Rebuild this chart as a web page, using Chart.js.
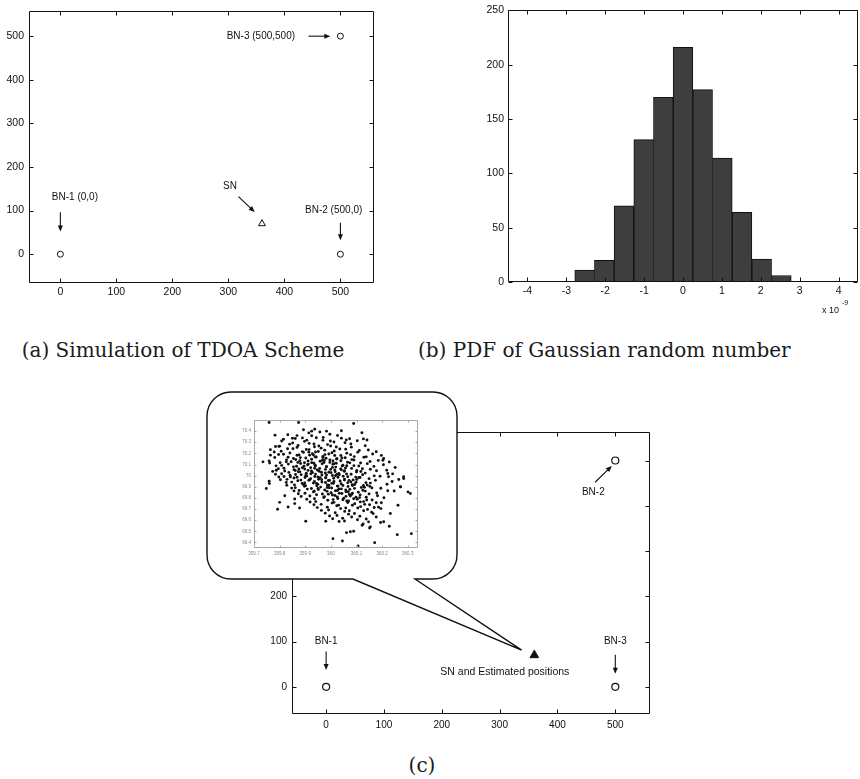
<!DOCTYPE html>
<html>
<head>
<meta charset="utf-8">
<script src="https://cdn.jsdelivr.net/npm/chart.js@4.4.1/dist/chart.umd.min.js"></script>
<style>
  html, body { margin: 0; padding: 0; background: #fff; }
  body { width: 860px; height: 779px; position: relative; overflow: hidden; }
  canvas { position: absolute; }
  .cap { position: absolute; font-family: "DejaVu Serif", serif; font-size: 20px; line-height: 20px;
         color: #1a1a1a; white-space: nowrap; }
</style>
</head>
<body>
<canvas id="chartA" width="400" height="300" style="left:0;top:0"></canvas>
<canvas id="chartB" width="430" height="320" style="left:430px;top:0"></canvas>
<canvas id="chartC" width="460" height="360" style="left:200px;top:380px"></canvas>
<canvas id="inset" width="195" height="155" style="left:230px;top:410px"></canvas>
<div class="cap" id="capA" style="left:183px;top:340px;transform:translateX(-50%)">(a) Simulation of TDOA Scheme</div>
<div class="cap" id="capB" style="left:418px;top:340px">(b) PDF of Gaussian random number</div>
<div class="cap" id="capC" style="left:422px;top:755px;transform:translateX(-50%)">(c)</div>

<script>
// ---------------- data ----------------
// beacon nodes and the sensor node (metres)
const beaconX = [0, 500, 500];
const beaconY = [0, 0, 500];
const sensorX = [360];
const sensorY = [70];
const fieldTicks = [0, 100, 200, 300, 400, 500];

// histogram of the Gaussian timing noise (seconds, x 1e-9)
const binCenters = [-2.53, -2.024, -1.518, -1.012, -0.506, 0, 0.506, 1.012, 1.518, 2.024, 2.53];
const binCounts  = [11, 20, 70, 131, 170, 216, 177, 114, 64, 21, 6];
const noiseTicks = [-4, -3, -2, -1, 0, 1, 2, 3, 4];
const countTicks = [0, 50, 100, 150, 200, 250];

// zoomed view of the estimated sensor positions
const zoomXTicks = [359.7, 359.8, 359.9, 360, 360.1, 360.2, 360.3];
const zoomYTicks = [69.4, 69.5, 69.6, 69.7, 69.8, 69.9, 70, 70.1, 70.2, 70.3, 70.4];
const estimatedPositions = [
  [359.893,70.413],[359.957,70.392],[360.041,70.404],
  [359.868,70.36],[359.914,70.384],[359.996,70.372],
  [359.832,70.367],[359.889,70.339],[359.925,70.358],[359.970,70.343],[360.026,70.361],[360.073,70.332],
  [359.815,70.327],[359.850,70.336],[359.906,70.319],[359.943,70.34],[359.998,70.312],[360.041,70.337],[360.127,70.33],
  [359.808,70.311],[359.851,70.294],[359.897,70.308],[359.934,70.285],[359.969,70.317],[360.012,70.303],[360.055,70.296],[360.103,70.313],
  [359.784,70.262],[359.839,70.283],[359.872,70.271],[359.915,70.29],[359.953,70.266],[359.987,70.279],[360.021,70.258],[360.078,70.284],[360.134,70.268],
  [359.797,70.263],[359.831,70.242],[359.868,70.254],[359.904,70.235],[359.936,70.259],[359.962,70.247],[359.999,70.267],[360.035,70.239],[360.080,70.256],[360.146,70.231],
  [359.764,70.233],[359.806,70.219],[359.852,70.242],[359.889,70.216],[359.915,70.234],[359.940,70.212],[359.976,70.229],[360.013,70.221],[360.058,70.238],[360.111,70.227],[360.177,70.215],
  [359.779,70.213],[359.815,70.192],[359.840,70.204],[359.876,70.185],[359.893,70.209],[359.928,70.197],[359.951,70.217],[359.977,70.189],[360.004,70.206],[360.039,70.181],[360.062,70.202],[360.105,70.211],[360.163,70.194],
  [359.796,70.19],[359.833,70.166],[359.868,70.183],[359.881,70.162],[359.917,70.184],[359.939,70.167],[359.969,70.173],[359.992,70.194],[360.015,70.181],[360.043,70.158],[360.077,70.188],[360.091,70.171],[360.138,70.169],[360.197,70.182],
  [359.781,70.163],[359.827,70.142],[359.854,70.154],[359.879,70.135],[359.902,70.159],[359.925,70.147],[359.943,70.167],[359.967,70.139],[359.981,70.156],[360.008,70.131],[360.024,70.152],[360.056,70.161],[360.082,70.144],[360.129,70.165],[360.185,70.137],
  [359.759,70.133],[359.802,70.117],[359.845,70.125],[359.863,70.144],[359.897,70.116],[359.911,70.131],[359.934,70.112],[359.958,70.129],[359.974,70.137],[359.996,70.119],[360.012,70.108],[360.039,70.134],[360.065,70.121],[360.090,70.14],[360.116,70.114],[360.153,70.127],[360.228,70.123],
  [359.761,70.113],[359.808,70.092],[359.834,70.104],[359.866,70.085],[359.882,70.109],[359.909,70.097],[359.925,70.117],[359.940,70.089],[359.966,70.106],[359.983,70.081],[360.008,70.102],[360.021,70.111],[360.047,70.094],[360.074,70.115],[360.109,70.087],[360.142,70.108],[360.205,70.098],
  [359.786,70.088],[359.817,70.067],[359.854,70.079],[359.875,70.06],[359.895,70.084],[359.921,70.072],[359.938,70.092],[359.956,70.064],[359.982,70.081],[359.999,70.056],[360.019,70.077],[360.044,70.086],[360.057,70.069],[360.090,70.09],[360.123,70.062],[360.168,70.083],[360.251,70.073],
  [359.795,70.063],[359.820,70.042],[359.856,70.054],[359.873,70.035],[359.898,70.059],[359.911,70.047],[359.937,70.067],[359.954,70.039],[359.979,70.056],[359.992,70.031],[360.015,70.052],[360.038,70.061],[360.053,70.044],[360.081,70.065],[360.117,70.037],[360.154,70.058],[360.218,70.048],
  [359.773,70.038],[359.808,70.017],[359.836,70.029],[359.862,70.01],[359.879,70.034],[359.904,70.022],[359.924,70.042],[359.940,70.014],[359.963,70.031],[359.983,70.006],[360.001,70.027],[360.017,70.036],[360.031,70.019],[360.052,70.04],[360.079,70.012],[360.100,70.033],[360.134,70.023],[360.178,70.044],[360.241,70.016],
  [359.784,70.013],[359.817,69.992],[359.841,70.004],[359.868,69.985],[359.884,70.009],[359.906,69.997],[359.922,70.017],[359.949,69.989],[359.965,70.006],[359.980,69.981],[360.006,70.002],[360.023,70.011],[360.048,69.994],[360.061,70.015],[360.097,69.987],[360.124,70.008],[360.169,69.998],[360.222,70.019],
  [359.797,69.988],[359.829,69.967],[359.856,69.979],[359.883,69.96],[359.899,69.984],[359.921,69.972],[359.937,69.992],[359.964,69.964],[359.980,69.981],[359.990,69.956],[360.011,69.977],[360.028,69.986],[360.053,69.969],[360.066,69.99],[360.087,69.962],[360.109,69.983],[360.149,69.973],[360.192,69.994],[360.265,69.966],
  [359.803,69.963],[359.847,69.942],[359.871,69.954],[359.898,69.935],[359.914,69.959],[359.936,69.947],[359.952,69.967],[359.979,69.939],[359.995,69.956],[360.010,69.931],[360.036,69.952],[360.053,69.961],[360.078,69.944],[360.101,69.965],[360.137,69.937],[360.174,69.958],[360.239,69.948],
  [359.826,69.938],[359.858,69.917],[359.888,69.929],[359.901,69.91],[359.932,69.934],[359.949,69.922],[359.965,69.942],[359.992,69.914],[360.004,69.931],[360.025,69.906],[360.040,69.927],[360.066,69.936],[360.083,69.919],[360.098,69.94],[360.127,69.912],[360.154,69.933],[360.219,69.923],
  [359.828,69.913],[359.861,69.892],[359.897,69.904],[359.924,69.885],[359.945,69.909],[359.960,69.897],[359.986,69.917],[360.003,69.889],[360.028,69.906],[360.041,69.881],[360.067,69.902],[360.084,69.911],[360.119,69.894],[360.142,69.915],[360.195,69.887],
  [359.847,69.888],[359.876,69.867],[359.908,69.879],[359.935,69.86],[359.950,69.884],[359.976,69.872],[359.993,69.892],[360.018,69.864],[360.031,69.881],[360.059,69.856],[360.074,69.877],[360.092,69.886],[360.125,69.869],[360.160,69.89],[360.247,69.862],
  [359.856,69.863],[359.899,69.842],[359.932,69.854],[359.967,69.835],[359.985,69.859],[360.001,69.847],[360.026,69.867],[360.043,69.839],[360.068,69.856],[360.081,69.831],[360.107,69.852],[360.134,69.861],[360.179,69.844],[360.222,69.865],
  [359.873,69.838],[359.918,69.817],[359.944,69.829],[359.975,69.81],[359.990,69.834],[360.016,69.822],[360.033,69.842],[360.059,69.814],[360.072,69.831],[360.098,69.806],[360.114,69.827],[360.149,69.836],[360.182,69.819],
  [359.884,69.813],[359.936,69.792],[359.972,69.804],[360.009,69.785],[360.025,69.809],[360.050,69.797],[360.076,69.817],[360.103,69.789],[360.138,69.806],[360.161,69.781],[360.207,69.802],
  [359.906,69.788],[359.941,69.767],[359.988,69.779],[360.012,69.76],[360.047,69.784],[360.062,69.772],[360.089,69.792],[360.115,69.764],[360.140,69.781],[360.177,69.756],
  [359.919,69.763],[359.962,69.742],[360.005,69.754],[360.030,69.735],[360.066,69.759],[360.093,69.747],[360.128,69.767],[360.151,69.739],[360.197,69.756],
  [359.934,69.738],[359.986,69.717],[360.023,69.729],[360.058,69.71],[360.084,69.734],[360.116,69.722],[360.132,69.742],[360.169,69.714],
  [359.947,69.713],[359.991,69.692],[360.038,69.704],[360.072,69.685],[360.105,69.709],[360.143,69.697],[360.186,69.717],
  [359.963,69.688],[360.017,69.667],[360.054,69.679],[360.092,69.66],[360.128,69.684],[360.159,69.672],
  [359.978,69.663],[360.024,69.642],[360.069,69.654],[360.113,69.635],[360.165,69.659],
  [359.995,69.638],[360.046,69.617],[360.081,69.629],[360.138,69.61],
  [360.007,69.613],[360.053,69.592],[360.104,69.604],[360.147,69.585],
  [360.032,69.588],[360.126,69.567],[360.194,69.579],
  [359.912,70.104],[359.947,70.051],[359.973,70.118],[360.006,70.074],[360.033,70.009],[359.958,69.982],
  [360.012,69.948],[360.047,69.911],[359.928,70.028],[359.889,70.071],[360.071,69.958],[360.093,69.921],
  [359.986,69.893],[360.058,69.872],[359.969,70.163],[359.932,70.186],[360.022,70.149],[359.902,70.002],
  [359.871,70.119],[360.114,69.984],[360.131,69.895],[360.006,69.826],[360.084,69.842],[359.944,69.931],
  [359.917,69.963],[360.041,70.052],[359.996,70.142],[359.861,70.046],[359.914,70.211],[360.062,70.089],
  [360.101,70.047],[359.978,70.024],[360.018,69.999],[359.951,69.876],[360.112,69.803],[360.069,69.772],
  [359.894,69.917],[359.842,69.988],[360.152,69.904],[360.027,69.794],
  [359.759,70.478],[359.874,70.478],[360.089,70.469],[359.782,70.364],[359.925,70.40],[359.937,70.418],
  [359.983,70.40],[360.121,70.385],[359.735,70.124],[359.764,70.184],[359.80,70.265],[359.861,70.334],
  [360.203,70.139],[360.284,69.974],[360.272,69.899],[360.301,69.854],[360.262,69.734],[360.314,69.479],
  [360.259,69.47],[360.045,69.413],[360.106,69.368],[360.171,69.398],[359.792,69.698],[359.902,69.59],
  [359.98,69.59],[360.061,69.488],[360.089,69.50],[360.151,69.53],[359.748,69.884],[359.759,69.95],
  [359.787,70.049],[359.826,70.124],[360.228,69.545],[360.195,69.704],[360.177,69.629],[360.122,69.554],
  [360.008,69.434],[359.833,69.719],[359.859,69.749],[359.859,69.79],[359.878,69.71],[359.82,69.82],
  [359.80,69.76],[359.76,69.93],[360.206,70.155],[360.284,69.99],[360.225,69.99],[360.141,70.32],
  [360.06,70.32],[360.232,69.66],[360.206,69.586],[360.154,69.54],[360.076,69.496],[360.31,69.84],
  [360.271,69.90]
];

// ---------------- helpers ----------------
const SANS = '"Liberation Sans", Arial, sans-serif';

function axis(min, max, ticks, size, pad, fit, color) {
  return {
    type: 'linear', min, max,
    grid: { display: false, drawTicks: false },
    border: { display: false },
    ticks: {
      autoSkip: false, maxRotation: 0, padding: pad, color,
      font: { family: SANS, size },
      callback: v => String(v)
    },
    afterBuildTicks: s => { s.ticks = ticks.map(v => ({ value: v })); },
    afterFit: s => { if (s.isHorizontal()) s.height = fit; else s.width = fit; }
  };
}

// box around the plot area with inward tick marks on all four sides
const framePlugin = {
  id: 'frame',
  afterDatasetsDraw(chart, args, o) {
    const { ctx, chartArea: a, scales: { x, y } } = chart;
    const L = o.tick;
    const l = Math.round(a.left) + 0.5, r = Math.round(a.right) - 0.5;
    const t = Math.round(a.top) + 0.5, b = Math.round(a.bottom) - 0.5;
    ctx.save();
    ctx.strokeStyle = o.color;
    ctx.lineWidth = o.width;
    ctx.beginPath();
    ctx.rect(l, t, r - l, b - t);
    x.ticks.forEach(tk => {
      const p = Math.round(x.getPixelForValue(tk.value)) + 0.5;
      ctx.moveTo(p, b); ctx.lineTo(p, b - L);
      ctx.moveTo(p, t); ctx.lineTo(p, t + L);
    });
    y.ticks.forEach(tk => {
      const p = Math.round(y.getPixelForValue(tk.value)) + 0.5;
      ctx.moveTo(l, p); ctx.lineTo(l + L, p);
      ctx.moveTo(r, p); ctx.lineTo(r - L, p);
    });
    ctx.stroke();
    ctx.restore();
  }
};

function drawArrow(ctx, x1, y1, x2, y2, head) {
  const ang = Math.atan2(y2 - y1, x2 - x1);
  const c = Math.cos(ang), s = Math.sin(ang);
  ctx.beginPath();
  ctx.moveTo(x1, y1);
  ctx.lineTo(x2 - c * head * 0.7, y2 - s * head * 0.7);
  ctx.stroke();
  ctx.beginPath();
  ctx.moveTo(x2, y2);
  ctx.lineTo(x2 - head * c + head * 0.42 * s, y2 - head * s - head * 0.42 * c);
  ctx.lineTo(x2 - head * c - head * 0.42 * s, y2 - head * s + head * 0.42 * c);
  ctx.closePath();
  ctx.fill();
}

// text labels and arrows placed in data coordinates
const notesPlugin = {
  id: 'notes',
  afterDatasetsDraw(chart, args, o) {
    const { ctx, scales: { x, y } } = chart;
    ctx.save();
    ctx.fillStyle = '#111';
    ctx.strokeStyle = '#111';
    ctx.lineWidth = 1.1;
    ctx.textAlign = 'center';
    ctx.textBaseline = 'middle';
    (o.texts || []).forEach(t => {
      ctx.font = (t.size || 10) + 'px ' + SANS;
      ctx.fillText(t.text, x.getPixelForValue(t.x), y.getPixelForValue(t.y));
    });
    (o.arrows || []).forEach(a => {
      drawArrow(ctx, x.getPixelForValue(a.x1), y.getPixelForValue(a.y1),
                x.getPixelForValue(a.x2), y.getPixelForValue(a.y2), 6);
    });
    ctx.restore();
  }
};

// "x 10^-9" multiplier under the noise axis
const exponentPlugin = {
  id: 'exponent',
  afterDraw(chart) {
    const { ctx, chartArea: a } = chart;
    ctx.save();
    ctx.fillStyle = '#111';
    ctx.textBaseline = 'alphabetic';
    ctx.textAlign = 'left';
    ctx.font = '9px ' + SANS;
    ctx.fillText('x 10', a.right - 36, a.bottom + 31);
    ctx.font = '7px ' + SANS;
    ctx.fillText('-9', a.right - 16, a.bottom + 23);
    ctx.restore();
  }
};

// rounded speech bubble that points at the estimated positions
const calloutPlugin = {
  id: 'callout',
  afterDraw(chart, args, o) {
    const { ctx, scales: { x, y } } = chart;
    const { left: x0, top: y0, right: x1, bottom: y1, radius: r, base1, base2 } = o;
    const tx = x.getPixelForValue(o.tipX), ty = y.getPixelForValue(o.tipY);
    ctx.save();
    ctx.beginPath();
    ctx.moveTo(x0 + r, y0);
    ctx.lineTo(x1 - r, y0);
    ctx.arcTo(x1, y0, x1, y0 + r, r);
    ctx.lineTo(x1, y1 - r);
    ctx.arcTo(x1, y1, x1 - r, y1, r);
    ctx.lineTo(base2, y1);
    ctx.lineTo(tx, ty);
    ctx.lineTo(base1, y1);
    ctx.lineTo(x0 + r, y1);
    ctx.arcTo(x0, y1, x0, y1 - r, r);
    ctx.lineTo(x0, y0 + r);
    ctx.arcTo(x0, y0, x0 + r, y0, r);
    ctx.closePath();
    ctx.fillStyle = '#fff';
    ctx.fill();
    ctx.strokeStyle = '#111';
    ctx.lineWidth = 1.4;
    ctx.stroke();
    ctx.restore();
  }
};

const pts = (xs, ys) => xs.map((v, i) => ({ x: v, y: ys[i] }));
const base = { responsive: false, animation: false, devicePixelRatio: 1, events: [] };

// ---------------- (a) TDOA layout ----------------
new Chart(document.getElementById('chartA'), {
  type: 'scatter',
  data: { datasets: [
    { data: pts(beaconX, beaconY), pointStyle: 'circle', pointRadius: 3, borderColor: '#111',
      backgroundColor: 'rgba(0,0,0,0)', borderWidth: 1 },
    { data: pts(sensorX, sensorY), pointStyle: 'triangle', pointRadius: 4, borderColor: '#111',
      backgroundColor: 'rgba(0,0,0,0)', borderWidth: 1 }
  ]},
  options: { ...base,
    layout: { padding: { top: 9, right: 26, left: 0, bottom: 0 } },
    plugins: { legend: { display: false }, tooltip: { enabled: false },
      frame: { color: '#111', tick: 4, width: 1 },
      notes: {
        texts: [
          { x: 26, y: 130, text: 'BN-1 (0,0)' },
          { x: 303, y: 156, text: 'SN' },
          { x: 488, y: 101, text: 'BN-2 (500,0)' },
          { x: 358, y: 500, text: 'BN-3 (500,500)' }
        ],
        arrows: [
          { x1: 0, y1: 96, x2: 0, y2: 52 },
          { x1: 318, y1: 132, x2: 347, y2: 97 },
          { x1: 500, y1: 72, x2: 500, y2: 32 },
          { x1: 443, y1: 500, x2: 482, y2: 500 }
        ]
      }
    },
    scales: {
      x: axis(-56, 560, fieldTicks, 10.5, 3, 17, '#111'),
      y: axis(-66, 557, fieldTicks, 10.5, 5, 29, '#111')
    }
  },
  plugins: [framePlugin, notesPlugin]
});

// ---------------- (b) noise histogram ----------------
new Chart(document.getElementById('chartB'), {
  type: 'bar',
  data: { datasets: [{
    data: pts(binCenters, binCounts),
    backgroundColor: '#3e3e3e', borderColor: '#111', borderWidth: 1,
    borderSkipped: false, barPercentage: 1, categoryPercentage: 1
  }]},
  options: { ...base,
    layout: { padding: { top: 8, right: 2, left: 0, bottom: 0 } },
    plugins: { legend: { display: false }, tooltip: { enabled: false },
      frame: { color: '#111', tick: 4, width: 1 } },
    scales: {
      x: axis(-4, 4, noiseTicks, 10.5, 3, 38, '#111'),
      y: axis(0, 250, countTicks, 10.5, 4, 78, '#111')
    }
  },
  plugins: [framePlugin, exponentPlugin]
});

// ---------------- (c) estimation result ----------------
new Chart(document.getElementById('chartC'), {
  type: 'scatter',
  data: { datasets: [
    { data: pts(beaconX, beaconY), pointStyle: 'circle', pointRadius: 3.5, borderColor: '#111',
      backgroundColor: 'rgba(0,0,0,0)', borderWidth: 1.2 },
    { data: pts(sensorX, sensorY), pointStyle: 'triangle', pointRadius: 5, borderColor: '#111',
      backgroundColor: '#111', borderWidth: 1 }
  ]},
  options: { ...base,
    layout: { padding: { top: 52, right: 10, left: 0, bottom: 0 } },
    plugins: { legend: { display: false }, tooltip: { enabled: false },
      frame: { color: '#111', tick: 4, width: 1 },
      notes: {
        texts: [
          { x: 0, y: 101, text: 'BN-1' },
          { x: 500, y: 100, text: 'BN-3' },
          { x: 462, y: 430, text: 'BN-2' },
          { x: 309, y: 32, text: 'SN and Estimated positions', size: 10.5 }
        ],
        arrows: [
          { x1: 0, y1: 78, x2: 0, y2: 37 },
          { x1: 500, y1: 71, x2: 500, y2: 29 },
          { x1: 465, y1: 452, x2: 494, y2: 488 }
        ]
      },
      callout: { left: 7, top: 12, right: 257, bottom: 199, radius: 24, base1: 153, base2: 215,
                 tipX: 338, tipY: 81 }
    },
    scales: {
      x: axis(-59, 560, fieldTicks, 10, 5, 26, '#111'),
      y: axis(-60, 563, fieldTicks, 10, 5, 92, '#111')
    }
  },
  plugins: [framePlugin, notesPlugin, calloutPlugin]
});

// ---------------- zoomed estimates inside the bubble ----------------
new Chart(document.getElementById('inset'), {
  type: 'scatter',
  data: { datasets: [{
    data: estimatedPositions.map(p => ({ x: p[0], y: p[1] })),
    pointStyle: 'circle', pointRadius: 1.45, backgroundColor: '#111', borderWidth: 0
  }]},
  options: { ...base,
    layout: { padding: { top: 10, right: 7, left: 0, bottom: 0 } },
    plugins: { legend: { display: false }, tooltip: { enabled: false },
      frame: { color: '#a8a8a8', tick: 2, width: 1 } },
    scales: {
      x: axis(359.7, 360.34, zoomXTicks, 4.5, 3, 17, '#888'),
      y: axis(69.35, 70.5, zoomYTicks, 4.5, 3, 24, '#888')
    }
  },
  plugins: [framePlugin]
});
</script>
</body>
</html>
